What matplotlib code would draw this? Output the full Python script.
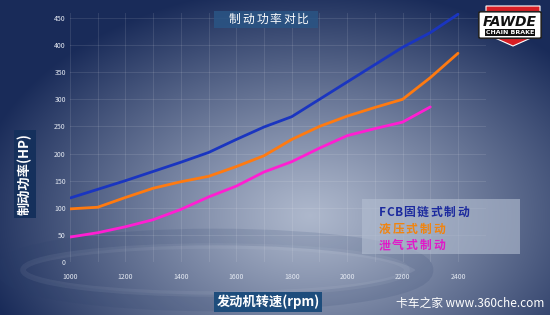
import numpy as np
import matplotlib.pyplot as plt
from matplotlib.patches import Ellipse, Polygon, FancyBboxPatch

plt.rcParams['font.family'] = ['Noto Sans CJK SC', 'DejaVu Sans']

rpm = [1000, 1100, 1200, 1300, 1400, 1500, 1600, 1700, 1800, 1900, 2000, 2100, 2200, 2300, 2400]
fcb = [118, 134, 150, 167, 184, 202, 226, 249, 268, 300, 332, 364, 396, 423, 457]
hydraulic = [98, 101, 119, 136, 148, 158, 176, 196, 226, 250, 269, 285, 300, 340, 385]
exhaust = [46, 54, 65, 78, 97, 120, 140, 166, 185, 210, 233, 246, 258, 286]

series_names = ['FCB固链式制动', '液压式制动', '泄气式制动']
series_colors = ['#1a35c0', '#ff7a10', '#ff1ed2']
legend_colors = ['#1c2a9e', '#f08410', '#e01ac8']
x_ticks = [1000, 1200, 1400, 1600, 1800, 2000, 2200, 2400]
y_ticks = [0, 50, 100, 150, 200, 250, 300, 350, 400, 450]

W, H = 550, 315
fig = plt.figure(figsize=(W / 100, H / 100), dpi=100)

def fx(px):
    return px / W

def fy(py):
    return 1 - py / H

def spaced_text(x0, y, s, cjk_step, latin_step, **kw):
    # one text per character so the wide letter spacing of the original shows
    x = x0
    for ch in s:
        step = latin_step if ord(ch) < 128 else cjk_step
        fig.text(fx(x + step / 2), fy(y + 4), ch, ha='center', va='baseline', **kw)
        x += step

# background gradient
bg = fig.add_axes([0, 0, 1, 1], zorder=0)
yy, xx = np.mgrid[0:H, 0:W]
d = np.sqrt(((xx - 310) / 340.0) ** 2 + ((yy - 215) / 230.0) ** 2)
t = np.clip(d, 0, 1) ** 1.15
light = np.array([0.68, 0.72, 0.80])
dark = np.array([0.10, 0.17, 0.35])
img = light[None, None, :] * (1 - t[..., None]) + dark[None, None, :] * t[..., None]
bg.imshow(img, extent=[0, W, H, 0], aspect='auto')
bg.add_patch(Ellipse((215, 270), 420, 66, fill=False, lw=12, ec='#2a3f6a', alpha=0.14))
bg.add_patch(Ellipse((215, 270), 384, 48, fill=False, lw=4, ec='#dfe6f0', alpha=0.07))
bg.set_xlim(0, W)
bg.set_ylim(H, 0)
bg.axis('off')

# chart
ax = fig.add_axes([fx(70), 53 / H, (485.7 - 70) / W, (262 - 12.6) / H], zorder=1)
ax.patch.set_alpha(0)
ax.plot(rpm, fcb, color=series_colors[0], lw=2.0, solid_capstyle='round')
ax.plot(rpm, hydraulic, color=series_colors[1], lw=2.0, solid_capstyle='round')
ax.plot(rpm[:len(exhaust)], exhaust, color=series_colors[2], lw=2.0, solid_capstyle='round')
ax.set_xlim(1000, 2500)
ax.set_ylim(0, 460)
ax.set_xticks(x_ticks)
ax.set_yticks(y_ticks)
ax.set_xticks(range(1100, 2500, 100), minor=True)
ax.grid(True, which='both', color='white', alpha=0.1, lw=0.8)
ax.tick_params(which='both', length=0, labelsize=5, labelcolor='#e4e9f2')
ax.tick_params(axis='x', pad=8)
ax.tick_params(axis='y', pad=3)
for s in ax.spines.values():
    s.set_visible(False)

# title and axis labels
title_box = FancyBboxPatch((fx(214), fy(28)), fx(318) - fx(214), fy(11) - fy(28),
                           boxstyle='square,pad=0', transform=fig.transFigure,
                           fc='#2a5585', ec='none', alpha=0.85, zorder=2)
fig.patches.append(title_box)
spaced_text(228, 19, '制动功率对比', 13.6, 8, fontsize=8.5, color='white', zorder=3)

fig.text(fx(25), fy(174), '制动功率(HP)', ha='center', va='center', rotation=90, fontsize=9.5,
         color='white', fontweight='bold',
         bbox=dict(boxstyle='square,pad=0.25', fc='#15305c', ec='none'))
fig.text(fx(268), fy(302), '发动机转速(rpm)', ha='center', va='center', fontsize=9.5,
         color='white', fontweight='bold',
         bbox=dict(boxstyle='square,pad=0.2', fc='#1e4d7c', ec='none'))

# legend box
leg = FancyBboxPatch((fx(362), fy(254)), fx(520) - fx(362), fy(199) - fy(254),
                     boxstyle='square,pad=0', transform=fig.transFigure,
                     fc='#b4bfd2', ec='none', alpha=0.6, zorder=2)
fig.patches.append(leg)
for i, (name, col) in enumerate(zip(series_names, legend_colors)):
    spaced_text(378, 212 + 16.5 * i, name, 13.5, 8.2, fontsize=8.5, color=col,
                fontweight='bold', zorder=3)

# logo badge
shield = Polygon([[fx(486), fy(6)], [fx(540), fy(6)], [fx(540), fy(34)], [fx(513), fy(46)],
                  [fx(486), fy(34)]], closed=True, transform=fig.transFigure,
                 fc='#d81e24', ec='white', lw=0.8, zorder=3)
fig.patches.append(shield)
badge = FancyBboxPatch((fx(481), fy(37)), fx(539) - fx(481), fy(13) - fy(37),
                       boxstyle='round,pad=0.004', transform=fig.transFigure,
                       fc='white', ec='#222222', lw=1.2, zorder=4)
fig.patches.append(badge)
fig.text(fx(510), fy(22), 'FAWDE', ha='center', va='center', fontsize=10, fontweight='bold',
         style='italic', color='#111111', family='DejaVu Sans', zorder=5)
fig.text(fx(510), fy(32.5), 'CHAIN BRAKE', ha='center', va='center', fontsize=4.5,
         fontweight='bold', color='white', family='DejaVu Sans', zorder=5,
         bbox=dict(boxstyle='square,pad=0.15', fc='#111111', ec='none'))

# watermark
fig.text(fx(544), fy(303), '卡车之家 www.360che.com', ha='right', va='center', fontsize=8.5,
         color='white', family=['Noto Sans CJK SC', 'DejaVu Sans'])

fig.savefig('out.png', dpi=100)
